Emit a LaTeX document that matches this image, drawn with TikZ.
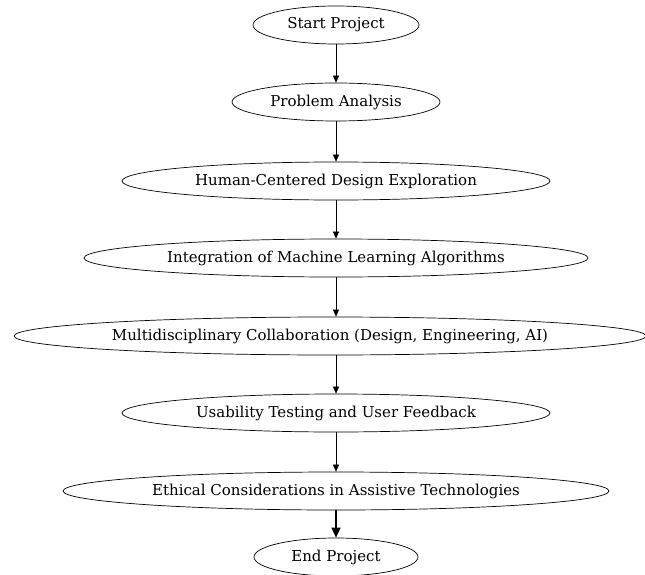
\documentclass[tikz,border=0pt]{standalone}
\usepackage{fontspec}
\setmainfont{DejaVu Serif}
\usetikzlibrary{shapes.geometric,arrows.meta}
\tikzset{
  stage/.style={draw,ellipse,inner sep=0pt,minimum height=38pt,line width=.7pt},
}
\begin{document}
\begin{tikzpicture}[>={Triangle[length=7pt,width=6pt]},x=1pt,y=-1pt,font=\fontsize{15}{16}\selectfont,line width=.6pt]
	\useasboundingbox (0,0) rectangle (645,575);
	\node[stage,minimum width=166pt] (start) at (336,25) {Start Project};
	\node[stage,minimum width=208pt] (problem) at (336,102) {Problem Analysis};
	\node[stage,minimum width=428pt] (human) at (336,181) {Human-Centered Design Exploration};
	\node[stage,minimum width=504pt] (ml) at (336,258) {Integration of Machine Learning Algorithms};
	\node[stage,minimum width=632pt] (collab) at (330,336) {Multidisciplinary Collaboration (Design, Engineering, AI)};
	\node[stage,minimum width=428pt] (usability) at (336,413) {Usability Testing and User Feedback};
	\node[stage,minimum width=546pt] (ethics) at (336,491) {Ethical Considerations in Assistive Technologies};
	\node[stage,minimum width=164pt] (end) at (336,557) {End Project};
	\foreach \a/\b in {start/problem,problem/human,human/ml,usability/ethics}{
		\draw[->] (\a) -- (\b);
	}
	\draw[->] (ml) -- (ml |- collab.north);
	\draw[->] (ml |- collab.south) -- (usability);
	\draw[-{Triangle[length=10pt,width=9pt]},line width=1.6pt] (ethics) -- (end);
\end{tikzpicture}
\end{document}
